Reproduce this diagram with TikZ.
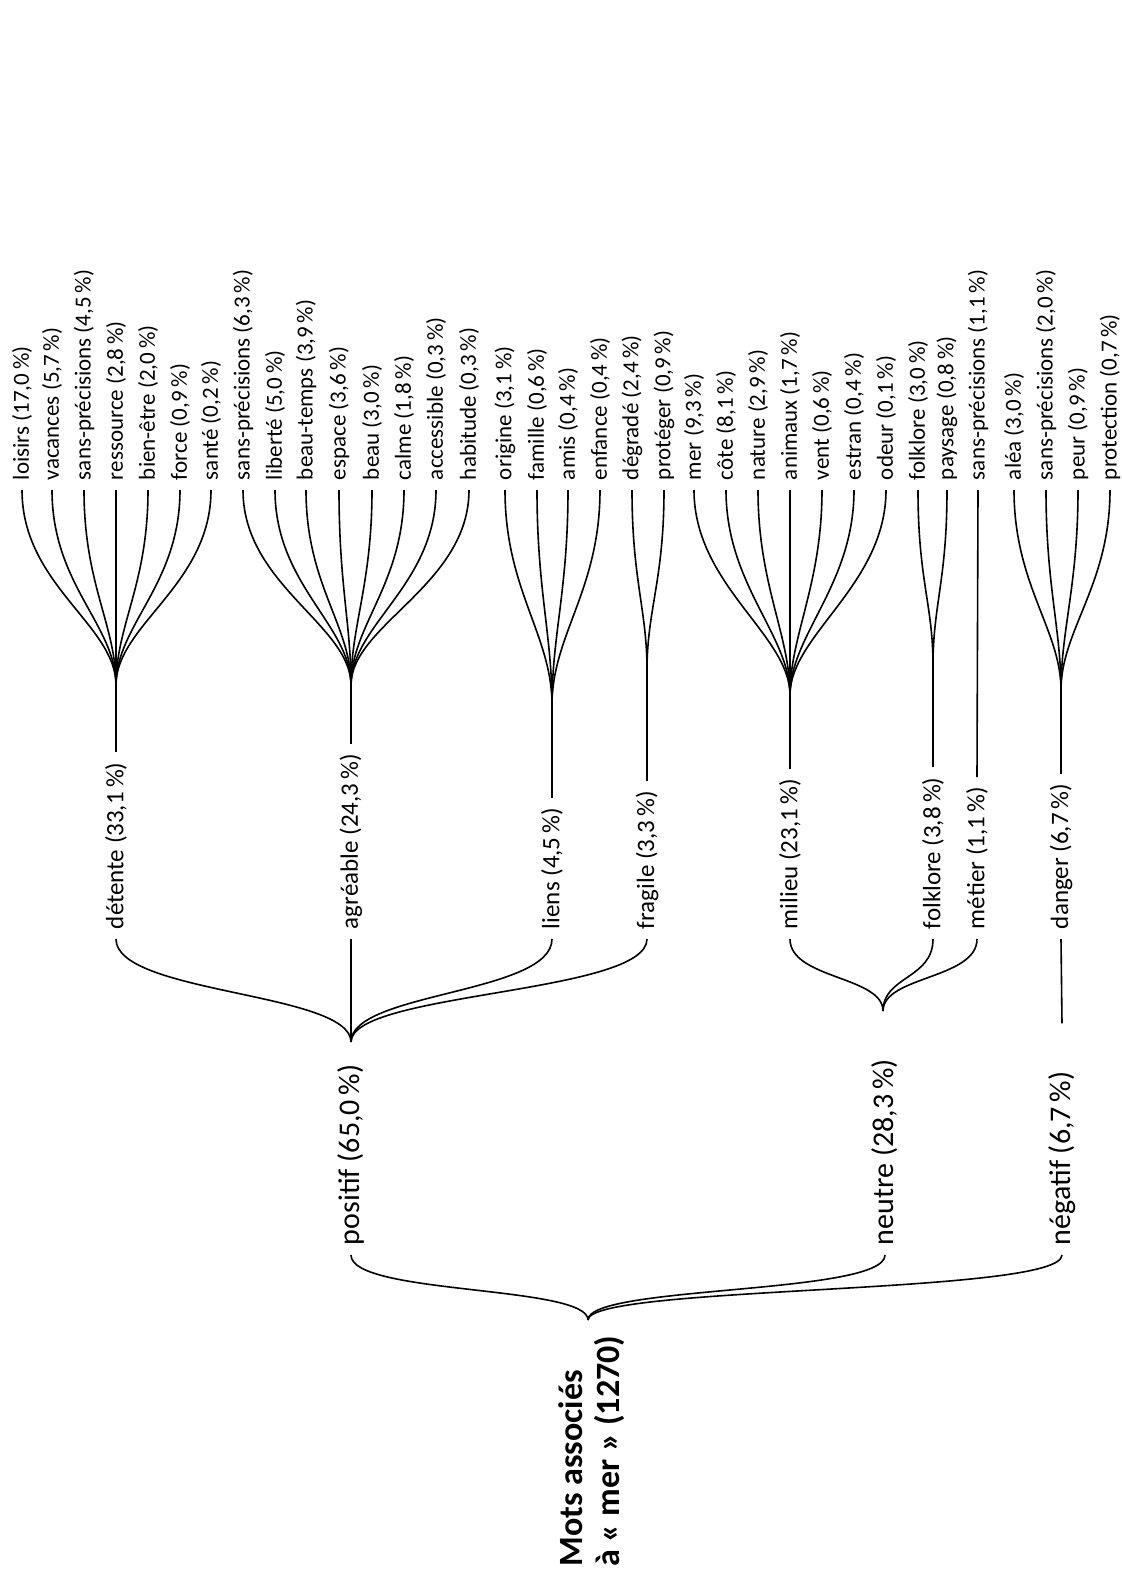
\documentclass[tikz,border=0pt]{standalone}
\usepackage{fontspec}
\setmainfont{Carlito}
\usepackage{tikz}
\usetikzlibrary{calc,backgrounds}
\tikzstyle{mots}=[
  x=0.5pt,y=-0.5pt
]
\tikzstyle{leaf}=[
  rotate=90,anchor=west,inner sep=0pt,outer sep=5pt,font=\fontsize{11.5}{12}\selectfont
]
\tikzstyle{theme}=[
  rotate=90,anchor=west,inner sep=0pt,outer sep=5pt,font=\fontsize{12.5}{13}\selectfont
]
\tikzstyle{pole}=[
  rotate=90,anchor=west,inner sep=0pt,outer sep=5pt,font=\fontsize{15}{16}\selectfont
]
\tikzstyle{rootnode}=[
  rotate=90,anchor=west,inner sep=0pt,align=left,font=\bfseries\fontsize{17}{18.5}\selectfont
]
\tikzstyle{twig}=[
    line width=0.8pt
]
\tikzstyle{stem}=[
    line width=1.4pt
]
\tikzset{
  fan/.style={twig},
  brace/.style={twig},
}

\begin{document}
\begin{tikzpicture}[mots]
    \useasboundingbox (0,0) rectangle (1121,1570);
      % leaves
        \node (det1) at (22,490) [leaf] {loisirs (17,0\,\%)};
        \node (det2) at (52,490) [leaf] {vacances (5,7\,\%)};
        \node (det3) at (84,490) [leaf] {sans-précisions (4,5\,\%)};
        \node (det4) at (116,490) [leaf] {ressource (2,8\,\%)};
        \node (det5) at (148,490) [leaf] {bien-être (2,0\,\%)};
        \node (det6) at (180,490) [leaf] {force (0,9\,\%)};
        \node (det7) at (211,490) [leaf] {santé (0,2\,\%)};
        \node (agr1) at (243,490) [leaf] {sans-précisions (6,3\,\%)};
        \node (agr2) at (275,490) [leaf] {liberté (5,0\,\%)};
        \node (agr3) at (306,490) [leaf] {beau-temps (3,9\,\%)};
        \node (agr4) at (339,490) [leaf] {espace (3,6\,\%)};
        \node (agr5) at (372,490) [leaf] {beau (3,0\,\%)};
        \node (agr6) at (404,490) [leaf] {calme (1,8\,\%)};
        \node (agr7) at (436,490) [leaf] {accessible (0,3\,\%)};
        \node (agr8) at (469,490) [leaf] {habitude (0,3\,\%)};
        \node (lie1) at (505,490) [leaf] {origine (3,1\,\%)};
        \node (lie2) at (537,490) [leaf] {famille (0,6\,\%)};
        \node (lie3) at (568,490) [leaf] {amis (0,4\,\%)};
        \node (lie4) at (600,490) [leaf] {enfance (0,4\,\%)};
        \node (fra1) at (632,490) [leaf] {dégradé (2,4\,\%)};
        \node (fra2) at (664,490) [leaf] {protéger (0,9\,\%)};
        \node (mil1) at (694,490) [leaf] {mer (9,3\,\%)};
        \node (mil2) at (726,490) [leaf] {côte (8,1\,\%)};
        \node (mil3) at (758,490) [leaf] {nature (2,9\,\%)};
        \node (mil4) at (790,490) [leaf] {animaux (1,7\,\%)};
        \node (mil5) at (822,490) [leaf] {vent (0,6\,\%)};
        \node (mil6) at (854,490) [leaf] {estran (0,4\,\%)};
        \node (mil7) at (886,490) [leaf] {odeur (0,1\,\%)};
        \node (fol1) at (918,490) [leaf] {folklore (3,0\,\%)};
        \node (fol2) at (947,490) [leaf] {paysage (0,8\,\%)};
        \node (met1) at (978,490) [leaf] {sans-précisions (1,1\,\%)};
        \node (dan1) at (1014,490) [leaf] {aléa (3,0\,\%)};
        \node (dan2) at (1046,490) [leaf] {sans-précisions (2,0\,\%)};
        \node (dan3) at (1078,490) [leaf] {peur (0,9\,\%)};
        \node (dan4) at (1110,490) [leaf] {protection (0,7\,\%)};
      % themes
        \node (det) at (116,939) [theme] {détente (33,1\,\%)};
        \node (agr) at (351,939) [theme] {agréable (24,3\,\%)};
        \node (lie) at (552,939) [theme] {liens (4,5\,\%)};
        \node (fra) at (647,939) [theme] {fragile (3,3\,\%)};
        \node (mil) at (790,939) [theme] {milieu (23,1\,\%)};
        \node (fol) at (933,939) [theme] {folklore (3,8\,\%)};
        \node (met) at (977,939) [theme] {métier (1,1\,\%)};
        \node (dan) at (1061,939) [theme] {danger (6,7\,\%)};
      % poles and root
        \node (pos) at (351,1255) [pole] {positif (65,0\,\%)};
        \node (neu) at (885,1255) [pole] {neutre (28,3\,\%)};
        \node (neg) at (1062,1255) [pole] {négatif (6,7\,\%)};
        \node (mots) at (592,1567) [rootnode] {Mots associés\\à «~mer~» (1270)};

        \coordinate (cdet) at (116,685);
        \coordinate (cagr) at (351,685);
        \coordinate (clie) at (552,705);
        \coordinate (cfra) at (647,670);
        \coordinate (cmil) at (790,695);
        \coordinate (cfol) at (933,665);
        \coordinate (cdan) at (1061,690);
        \coordinate (jpos) at (351,1042);
        \coordinate (jneu) at (883,1011);
        \coordinate (jneg) at ($(neg.east)+(0,-38)$);
        \coordinate (jmots) at (588,1320);

        \begin{scope}[on background layer]
          \draw [fan] (det1.west) .. controls +(0,95) and +(0,-60) .. (cdet);
          \draw [fan] (det2.west) .. controls +(0,95) and +(0,-60) .. (cdet);
          \draw [fan] (det3.west) .. controls +(0,95) and +(0,-60) .. (cdet);
          \draw [fan] (det4.west) -- (cdet);
          \draw [fan] (det5.west) .. controls +(0,95) and +(0,-60) .. (cdet);
          \draw [fan] (det6.west) .. controls +(0,95) and +(0,-60) .. (cdet);
          \draw [fan] (det7.west) .. controls +(0,95) and +(0,-60) .. (cdet);
          \draw [stem] (cdet) -- (det.east);
          \draw [fan] (agr1.west) .. controls +(0,95) and +(0,-60) .. (cagr);
          \draw [fan] (agr2.west) .. controls +(0,95) and +(0,-60) .. (cagr);
          \draw [fan] (agr3.west) .. controls +(0,95) and +(0,-60) .. (cagr);
          \draw [fan] (agr4.west) .. controls +(0,95) and +(0,-60) .. (cagr);
          \draw [fan] (agr5.west) .. controls +(0,95) and +(0,-60) .. (cagr);
          \draw [fan] (agr6.west) .. controls +(0,95) and +(0,-60) .. (cagr);
          \draw [fan] (agr7.west) .. controls +(0,95) and +(0,-60) .. (cagr);
          \draw [fan] (agr8.west) .. controls +(0,95) and +(0,-60) .. (cagr);
          \draw [stem] (cagr) -- (agr.east);
          \draw [fan] (lie1.west) .. controls +(0,100) and +(0,-70) .. (clie);
          \draw [fan] (lie2.west) .. controls +(0,100) and +(0,-70) .. (clie);
          \draw [fan] (lie3.west) .. controls +(0,100) and +(0,-70) .. (clie);
          \draw [fan] (lie4.west) .. controls +(0,100) and +(0,-70) .. (clie);
          \draw [twig] (clie) -- (lie.east);
          \draw [fan] (fra1.west) .. controls +(0,90) and +(0,-60) .. (cfra);
          \draw [fan] (fra2.west) .. controls +(0,90) and +(0,-60) .. (cfra);
          \draw [twig] (cfra) -- (fra.east);
          \draw [fan] (mil1.west) .. controls +(0,95) and +(0,-60) .. (cmil);
          \draw [fan] (mil2.west) .. controls +(0,95) and +(0,-60) .. (cmil);
          \draw [fan] (mil3.west) .. controls +(0,95) and +(0,-60) .. (cmil);
          \draw [fan] (mil4.west) -- (cmil);
          \draw [fan] (mil5.west) .. controls +(0,95) and +(0,-60) .. (cmil);
          \draw [fan] (mil6.west) .. controls +(0,95) and +(0,-60) .. (cmil);
          \draw [fan] (mil7.west) .. controls +(0,95) and +(0,-60) .. (cmil);
          \draw [stem] (cmil) -- (mil.east);
          \draw [fan] (fol1.west) .. controls +(0,90) and +(0,-60) .. (cfol);
          \draw [fan] (fol2.west) .. controls +(0,90) and +(0,-60) .. (cfol);
          \draw [twig] (cfol) -- (fol.east);
          \draw [twig] (met1.west) -- (met.east);
          \draw [fan] (dan1.west) .. controls +(0,95) and +(0,-60) .. (cdan);
          \draw [fan] (dan2.west) .. controls +(0,95) and +(0,-60) .. (cdan);
          \draw [fan] (dan3.west) .. controls +(0,95) and +(0,-60) .. (cdan);
          \draw [fan] (dan4.west) .. controls +(0,95) and +(0,-60) .. (cdan);
          \draw [twig,line width=1.1pt] (cdan) -- (dan.east);
          % themes to poles
          \draw [brace] (det.west) .. controls +(0,55) and +(0,-50) .. (jpos);
          \draw [brace] (agr.west) -- (jpos);
          \draw [brace] (lie.west) .. controls +(0,55) and +(0,-50) .. (jpos);
          \draw [brace] (fra.west) .. controls +(0,55) and +(0,-50) .. (jpos);
          \draw [brace] (mil.west) .. controls +(0,40) and +(0,-35) .. (jneu);
          \draw [brace] (fol.west) .. controls +(0,40) and +(0,-35) .. (jneu);
          \draw [brace] (met.west) .. controls +(0,40) and +(0,-35) .. (jneu);
          \draw [brace] (dan.west) -- (jneg);
          % poles to root
          \draw [brace] (pos.west) .. controls +(0,40) and +(0,-35) .. (jmots);
          \draw [brace] (neu.west) .. controls +(0,40) and +(0,-35) .. (jmots);
          \draw [brace] (neg.west) .. controls +(0,40) and +(0,-35) .. (jmots);
    \end{scope}
    \end{tikzpicture}
\end{document}
